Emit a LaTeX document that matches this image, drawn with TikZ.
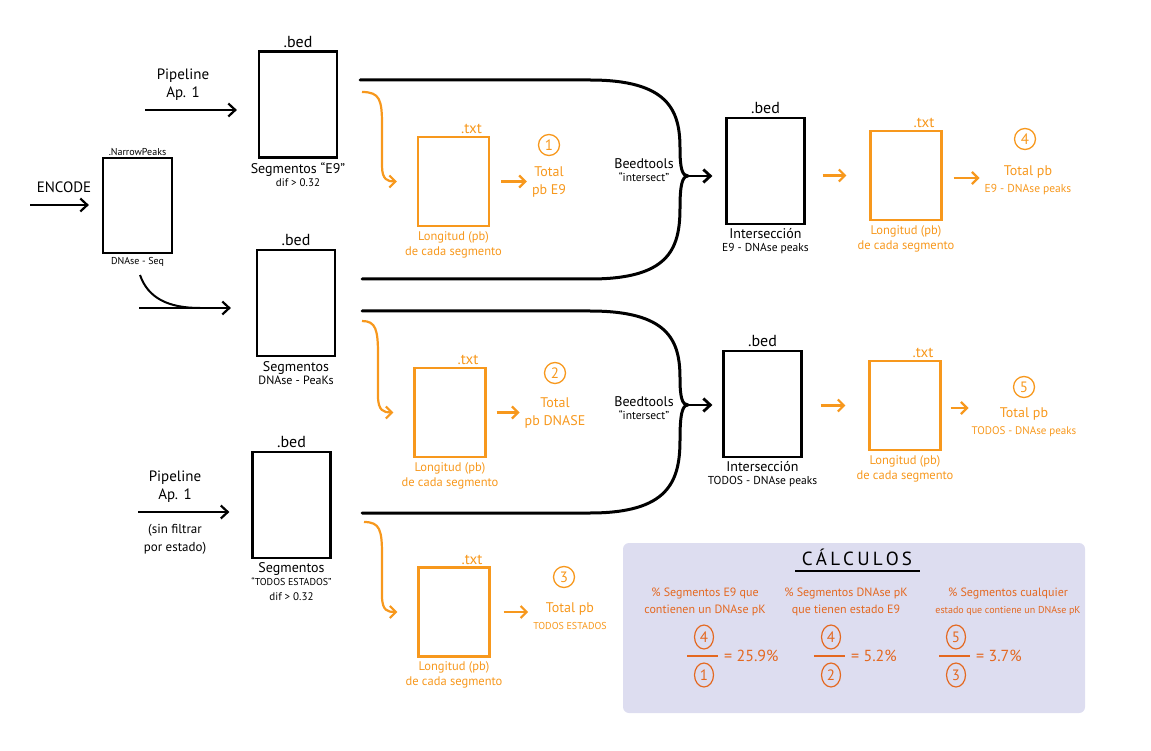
\documentclass[tikz,border=0pt]{standalone}
\usepackage{fontspec}
\setmainfont{PT Sans}
\usetikzlibrary{positioning, arrows.meta, calc, shapes.geometric}
\definecolor{naranja}{RGB}{247,152,29}
\definecolor{rojizo}{RGB}{228,104,32}
\definecolor{lila}{RGB}{221,221,240}

\begin{document}
\begin{tikzpicture}[
  x=1pt, y=-1pt,
  bedbox/.style={draw, line width=2.2pt, minimum width=78pt, minimum height=106pt, inner sep=0pt},
  txtbox/.style={draw=naranja, line width=2.2pt, minimum width=71pt, minimum height=89pt, inner sep=0pt},
  tag/.style={align=center, inner sep=1pt, font=\fontsize{14}{16}\selectfont},
  otag/.style={tag, text=naranja, font=\fontsize{12.5}{15}\selectfont},
  num/.style={circle, draw=naranja, line width=1.3pt, text=naranja, inner sep=0pt, minimum size=21pt, font=\fontsize{15}{15}\selectfont},
  calcnum/.style={ellipse, draw=rojizo, line width=1.2pt, text=rojizo, inner sep=0pt, minimum width=19pt, minimum height=24pt, font=\fontsize{15}{15}\selectfont},
  calctxt/.style={align=center, text=rojizo, inner sep=1pt, font=\fontsize{12}{17}\selectfont},
  blk/.style={-{Straight Barb[length=7pt, width=13pt]}, line width=2.2pt},
  org/.style={-{Straight Barb[length=6pt, width=12pt]}, line width=2.2pt, naranja},
  brace/.style={line width=3pt, line cap=round},
]
\useasboundingbox (0,0) rectangle (1151,751);

%% ── Source file ──────────────────────────────────────────────────────────────
\node[bedbox, minimum width=69pt, minimum height=95pt] (np) at (137.5,205.5) {};
\node[tag, anchor=south, font=\fontsize{10}{11}\selectfont] at (np.north) {.NarrowPeaks};
\node[tag, anchor=north, font=\fontsize{10}{11}\selectfont] (npl) at ([yshift=-2pt]np.south) {DNAse - Seq};
\node[tag, font=\fontsize{15}{16}\selectfont] (enc) at (64,187) {ENCODE};
\coordinate (encin) at (30,205);
\draw[blk, shorten >=13pt] (encin) -- (np.west |- encin);

%% ── Segment files (.bed) ─────────────────────────────────────────────────────
\node[bedbox] (seg1) at (298,104.5) {};
\node[bedbox] (seg2) at (296,303) {};
\node[bedbox] (seg3) at (291.5,505) {};
\foreach \b in {seg1,seg2,seg3} {
  \node[tag, anchor=south, font=\fontsize{16}{16}\selectfont] at ([yshift=2pt]\b.north) {.bed};
}
\node[tag, anchor=north] at ([yshift=-3pt]seg1.south) {Segmentos ``E9''\\[-3pt]{\fontsize{11}{13}\selectfont dif > 0.32}};
\node[tag, anchor=north] at ([yshift=-3pt]seg2.south) {Segmentos\\[-3pt]{\fontsize{12}{14}\selectfont DNAse - PeaKs}};
\node[tag, anchor=north] at ([yshift=-2pt]seg3.south) {Segmentos\\[-3pt]{\fontsize{10}{12}\selectfont ``TODOS ESTADOS''}\\[-1pt]{\fontsize{11}{13}\selectfont dif > 0.32}};

%% ── Pipeline arrows ──────────────────────────────────────────────────────────
\coordinate (pipe1) at (145,110);
\coordinate (pipe2) at (139,308);
\coordinate (pipe3) at (138,512);
\coordinate (dnase) at (140,275);
\node[tag, font=\fontsize{15}{18}\selectfont] at (183,85) {Pipeline\\Ap. 1};
\node[tag, font=\fontsize{15}{18}\selectfont] at (175,487) {Pipeline\\Ap. 1};
\node[tag, font=\fontsize{13}{18}\selectfont] at (175,539) {(sin filtrar\\por estado)};
\draw[blk, shorten >=21pt] (pipe1) -- (seg1.west |- pipe1);
\draw[blk, shorten >=25pt] (pipe2) -- (seg2.west |- pipe2);
\draw[blk, shorten >=22pt] (pipe3) -- (seg3.west |- pipe3);
\draw[line width=2pt] (dnase) .. controls (148,298) and (168,308) .. (200,308);

%% ── Length files (.txt) ──────────────────────────────────────────────────────
\node[txtbox] (t1) at (453.5,181.5) {};
\node[txtbox] (t2) at (450,412.5) {};
\node[txtbox] (t3) at (454,612) {};
\node[txtbox] (t4) at (906,175.5) {};
\node[txtbox] (t5) at (905,405.5) {};
\foreach \t in {t1,t2,t3,t4,t5} {
  \node[otag, anchor=south east, font=\fontsize{15}{15}\selectfont] at ([xshift=-7pt, yshift=1pt]\t.north east) {.txt};
  \node[otag, anchor=north] at ([yshift=-3pt]\t.south) {Longitud (pb)\\de cada segmento};
}

%% ── Orange curves into .txt ──────────────────────────────────────────────────
\coordinate (o1) at (362,92);
\coordinate (o2) at (362,321);
\coordinate (o3) at (364,522);
\draw[org] (o1) .. controls (380,92) and (382,100) .. (382,125) -- (382,166)
  .. controls (382,180) and (388,181.5) .. ([xshift=-20pt]t1.west);
\draw[org] (o2) .. controls (376,321) and (378,330) .. (378,355) -- (378,396)
  .. controls (378,411) and (384,412.5) .. ([xshift=-20pt]t2.west);
\draw[org] (o3) .. controls (380,522) and (382,530) .. (382,555) -- (382,596)
  .. controls (382,611) and (388,612) .. ([xshift=-20pt]t3.west);

%% ── Totals ───────────────────────────────────────────────────────────────────
\node[num] (c1) at (549,145) {1};
\node[num] (c2) at (555,373) {2};
\node[num] (c3) at (564,577) {3};
\node[num] (c4) at (1025,139) {4};
\node[num] (c5) at (1024,387) {5};
\node[otag, font=\fontsize{14}{18}\selectfont] (tot1) at (549,182) {Total\\pb E9};
\node[otag, font=\fontsize{14}{18}\selectfont] (tot2) at (555,413) {Total\\pb DNASE};
\node[otag, font=\fontsize{14}{17}\selectfont] (tot3) at (570,616) {Total pb\\{\fontsize{10}{12}\selectfont TODOS ESTADOS}};
\node[otag, font=\fontsize{14}{17}\selectfont] (tot4) at (1028,180) {Total pb\\{\fontsize{11.5}{13}\selectfont E9 - DNAse peaks}};
\node[otag, font=\fontsize{14}{17}\selectfont] (tot5) at (1024,422) {Total pb\\{\fontsize{11}{13}\selectfont TODOS - DNAse peaks}};
\draw[org, shorten <=11pt] (t1.east) -- ([xshift=-4pt]tot1.west |- t1.east);
\draw[org, shorten <=10pt] (t2.east) -- ([xshift=-4pt]tot2.west |- t2.east);
\draw[org, shorten <=13pt] (t3.east) -- ([xshift=-4pt]tot3.west |- t3.east);
\draw[org, shorten <=11pt] (t4.east |- 0,178) -- ([xshift=-4pt]tot4.west |- 0,178);
\draw[org, shorten <=9pt] (t5.east |- 0,408) -- ([xshift=-2pt]tot5.west |- 0,408);

%% ── Intersections (.bed) ─────────────────────────────────────────────────────
\node[bedbox] (i1) at (765.5,171) {};
\node[bedbox] (i2) at (762.5,404) {};
\foreach \b in {i1,i2} {
  \node[tag, anchor=south, font=\fontsize{16}{16}\selectfont] at ([yshift=2pt]\b.north) {.bed};
}
\node[tag, anchor=north] at ([yshift=-2pt]i1.south) {Intersección\\[-3pt]{\fontsize{11.5}{13}\selectfont E9 - DNAse peaks}};
\node[tag, anchor=north] at ([yshift=-2pt]i2.south) {Intersección\\[-3pt]{\fontsize{11.5}{13}\selectfont TODOS - DNAse peaks}};
\draw[org, shorten <=17pt, shorten >=23pt] (i1.east |- t4.west) -- (t4.west);
\draw[org, shorten <=18pt, shorten >=23pt] (i2.east |- t5.west) -- (t5.west);

%% ── Beedtools intersect braces ───────────────────────────────────────────────
\coordinate (b1t) at (360,80);
\coordinate (b1b) at (362,279);
\coordinate (j1) at (688,176);
\coordinate (b2t) at (362,311);
\coordinate (b2b) at (362,513);
\coordinate (j2) at (688,405);
\draw[brace] (b1t) -- (590,80) .. controls (668,80) and (680,110) .. (680,148)
  .. controls (680,168) and (682,176) .. (j1);
\draw[brace] (b1b) -- (590,279) .. controls (668,279) and (680,250) .. (680,208)
  .. controls (680,186) and (682,176) .. (j1);
\draw[brace] (b2t) -- (590,311) .. controls (668,311) and (680,340) .. (680,378)
  .. controls (680,397) and (682,405) .. (j2);
\draw[brace] (b2b) -- (590,513) .. controls (668,513) and (680,482) .. (680,440)
  .. controls (680,415) and (682,405) .. (j2);
\draw[blk, line width=2.8pt, shorten >=13pt] (j1) -- (i1.west |- j1);
\draw[blk, line width=2.8pt, shorten >=10pt] (j2) -- (i2.west |- j2);
\node[tag] at (644,170) {Beedtools\\[-3pt]{\fontsize{11.5}{13}\selectfont ``intersect''}};
\node[tag] at (644,408) {Beedtools\\[-3pt]{\fontsize{11.5}{13}\selectfont ``intersect''}};

%% ── Calculations panel ───────────────────────────────────────────────────────
\node[fill=lila, rounded corners=6pt, minimum width=462pt, minimum height=170pt] (calc) at (854,628) {};
\node[tag, font=\fontsize{19}{19}\selectfont] (titulo) at (857,557) {C\,Á\,L\,C\,U\,L\,O\,S};
\draw[line width=1.3pt] (795,571) -- (920,571);
\node[calctxt] (h1) at (705,602) {\% Segmentos E9 que\\contienen un DNAse pK};
\node[calctxt] (h2) at (846,602) {\% Segmentos DNAse pK\\que tienen estado E9};
\node[calctxt] (h3) at (1008,602) {\% Segmentos cualquier\\{\fontsize{10}{12}\selectfont estado que contiene un DNAse pK}};
\foreach \cx/\up/\dn/\res [count=\k] in {704/4/1/{= 25.9\%}, 831/4/2/{= 5.2\%}, 956/5/3/{= 3.7\%}} {
  \node[calcnum] (up\k) at (\cx,637) {\up};
  \node[calcnum] (dn\k) at (\cx,675) {\dn};
  \coordinate (bar\k) at (\cx,656);
  \draw[rojizo, line width=1.3pt] ([xshift=-17pt]bar\k) -- ([xshift=14pt]bar\k);
  \node[calctxt, anchor=west, font=\fontsize{16}{16}\selectfont] at ([xshift=19pt]bar\k) {\res};
}

\end{tikzpicture}
\end{document}
